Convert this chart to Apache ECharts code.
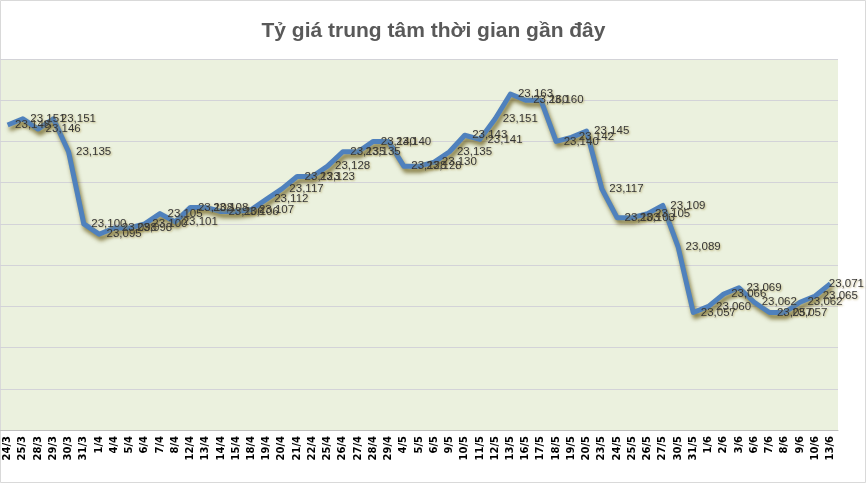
<!DOCTYPE html>
<html>
<head>
<meta charset="utf-8">
<script src="https://cdn.jsdelivr.net/npm/echarts@6/dist/echarts.min.js"></script>
<style>html,body{margin:0;padding:0;background:#fff;}#c{width:867px;height:484px;}</style>
</head>
<body>
<div id="c"></div>
<script>
const titleText = "Tỷ giá trung tâm thời gian gần đây";
const categories = ["24/3","25/3","28/3","29/3","30/3","31/3","1/4","4/4","5/4","6/4","7/4","8/4","12/4","13/4","14/4","15/4","18/4","19/4","20/4","21/4","22/4","25/4","26/4","27/4","28/4","29/4","4/5","5/5","6/5","9/5","10/5","11/5","12/5","13/5","16/5","17/5","18/5","19/5","20/5","23/5","24/5","25/5","26/5","27/5","30/5","31/5","1/6","2/6","3/6","6/6","7/6","8/6","9/6","10/6","13/6"];
const rates = [23148,23151,23146,23151,23135,23100,23095,23098,23098,23100,23105,23101,23108,23108,23106,23106,23107,23112,23117,23123,23123,23128,23135,23135,23140,23140,23128,23128,23130,23135,23143,23141,23151,23163,23160,23160,23140,23142,23145,23117,23103,23103,23105,23109,23089,23057,23060,23066,23069,23062,23057,23057,23062,23065,23071];
const yMin = 23000, yMax = 23180, yStep = 20;

const chart = echarts.init(document.getElementById('c'), null, {renderer: 'canvas'});
chart.setOption({
  animation: false,
  backgroundColor: '#ffffff',
  title: {
    text: titleText,
    left: 'center',
    top: 16,
    textStyle: {fontFamily: 'Liberation Sans', fontWeight: 'bold', fontSize: 21, color: '#595959'}
  },
  grid: {
    left: 0, right: 29, top: 59, bottom: 54,
    show: true, backgroundColor: '#EBF1DE', borderWidth: 0
  },
  xAxis: {
    type: 'category',
    data: categories,
    boundaryGap: true,
    axisLine: {show: true, lineStyle: {color: '#BFBFBF', width: 1}},
    axisTick: {show: false},
    axisLabel: {
      interval: 0, rotate: 90, margin: 6,
      fontFamily: 'DejaVu Sans', fontWeight: 'bold', fontSize: 10, color: '#000000'
    }
  },
  yAxis: {
    type: 'value',
    min: yMin, max: yMax, interval: yStep,
    axisLine: {show: false},
    axisTick: {show: false},
    axisLabel: {show: false},
    splitLine: {show: true, lineStyle: {color: '#D3D3D8', width: 1}}
  },
  series: [{
    type: 'line',
    data: rates,
    symbol: 'circle',
    symbolSize: 1,
    showSymbol: true,
    itemStyle: {color: 'rgba(0,0,0,0)'},
    lineStyle: {
      color: '#4F81BD', width: 5, join: 'round',
      shadowColor: 'rgba(95,80,10,0.75)', shadowBlur: 4, shadowOffsetX: 2, shadowOffsetY: 4
    },
    label: {
      show: true,
      position: 'right',
      distance: 7,
      formatter: p => p.value.toLocaleString('en-US'),
      fontFamily: 'Liberation Sans',
      fontSize: 11.5,
      color: '#363636',
      textShadowColor: 'rgba(160,140,60,0.6)',
      textShadowBlur: 2,
      textShadowOffsetX: 1,
      textShadowOffsetY: 1
    },
    labelLayout: function (params) {
      const r = params.labelRect;
      const over = r.x + r.width - 864;
      return {hideOverlap: false, dx: over > 0 ? -over : 0};
    }
  }],
  graphic: [{
    type: 'rect',
    shape: {x: 0.5, y: 0.5, width: 865, height: 482},
    style: {fill: 'none', stroke: '#D9D9D9', lineWidth: 1},
    silent: true
  }]
});
</script>
</body>
</html>
